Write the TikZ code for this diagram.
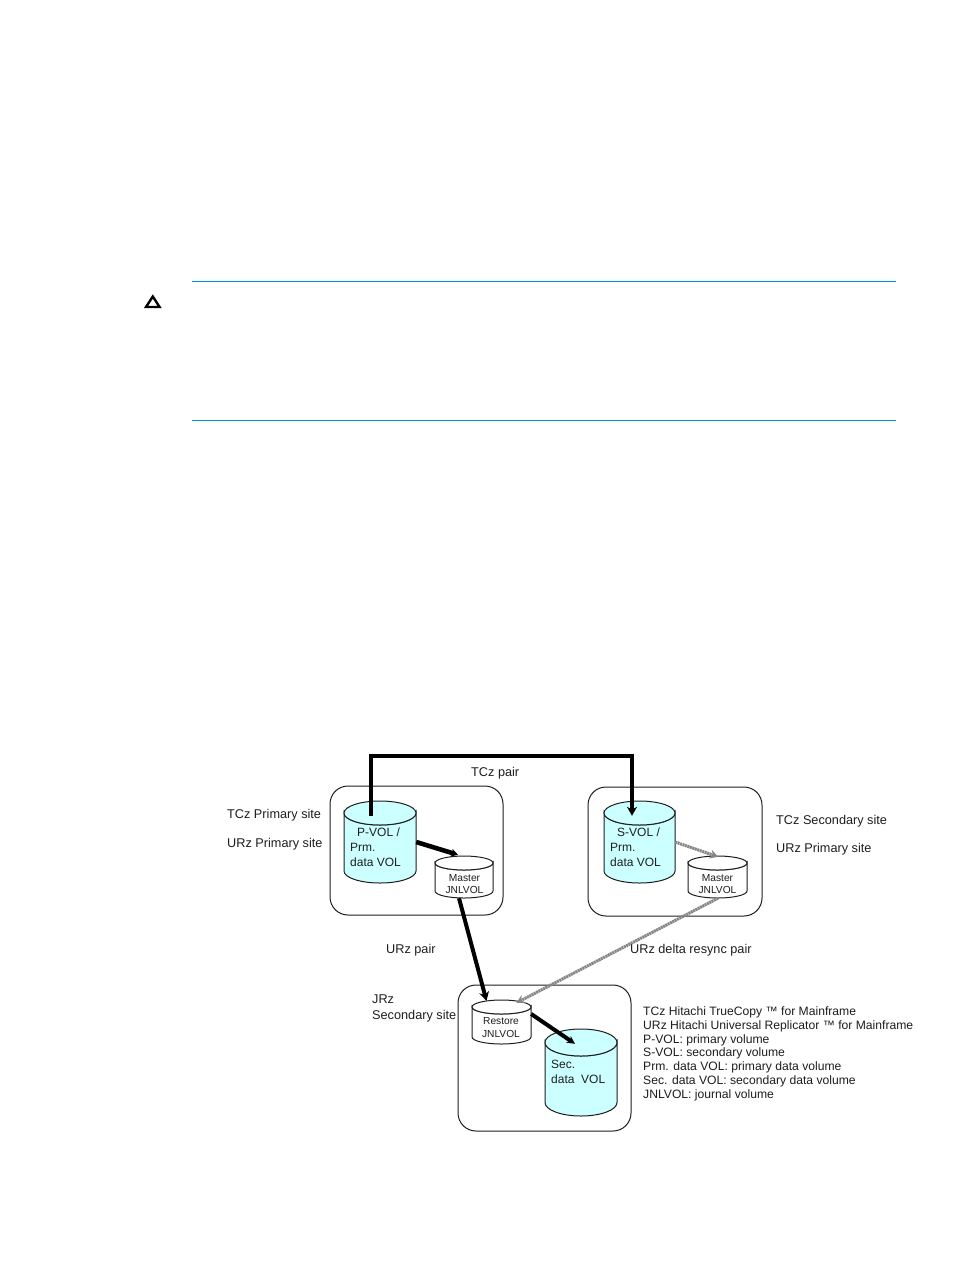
\documentclass[tikz,border=0pt]{standalone}
\usepackage{fontspec}
\setmainfont{Liberation Sans}
\usetikzlibrary{arrows.meta}
\definecolor{volfill}{HTML}{CCFFFF}
\definecolor{rulecol}{HTML}{0096C8}
\definecolor{inkcol}{HTML}{1E1E1E}
\definecolor{linkgray}{HTML}{858585}
\tikzset{
  sitebox/.style={draw=inkcol,line width=1pt,rounded corners=18pt,inner sep=0pt},
  label/.style={anchor=base west,inner sep=0pt,text=inkcol,font=\fontsize{12.7}{14}\selectfont},
  vollabel/.style={anchor=base west,inner sep=0pt,text=inkcol,font=\fontsize{12}{14}\selectfont},
  jnllabel/.style={anchor=base,inner sep=0pt,text=inkcol,font=\fontsize{10.2}{12}\selectfont},
  legend/.style={anchor=base west,inner sep=0pt,text=inkcol,font=\fontsize{12.15}{14}\selectfont},
  boldlink/.style={line width=4pt,draw=black,line join=miter,-{Stealth[length=9pt,width=10pt]}},
  graylink/.style={line width=3pt,draw=linkgray,dash pattern=on 2pt off 0.6pt,-{Stealth[length=8pt,width=9pt]}},
  pagerule/.style={draw=rulecol,line width=1pt},
}
% \volume{name}{fill}{left}{right}{top}{lid depth}{bottom}
\newcommand{\volume}[7]{%
  \pgfmathsetmacro{\vmid}{(#3+#4)/2}%
  \pgfmathsetmacro{\vhw}{(#4-#3)/2}%
  \pgfmathsetmacro{\vrad}{#6/2}%
  \pgfmathsetmacro{\vcy}{#5+\vrad}%
  \pgfmathsetmacro{\vsy}{#7-\vrad}%
  \path[draw=inkcol,line width=1pt,fill=#2]
    (#3,\vcy) arc[start angle=180,end angle=360,x radius=\vhw,y radius=-\vrad]
    -- (#4,\vsy) arc[start angle=0,end angle=-180,x radius=\vhw,y radius=-\vrad] -- cycle;
  \path[draw=inkcol,line width=1pt,fill=#2] (\vmid,\vcy) ellipse[x radius=\vhw,y radius=\vrad];
  \pgfmathsetmacro{\vw}{#4-#3}%
  \pgfmathsetmacro{\vh}{#7-#5}%
  \pgfmathsetmacro{\vcm}{(#5+#7)/2}%
  \node[minimum width=\vw pt,minimum height=\vh pt,inner sep=0pt] (#1) at (\vmid,\vcm) {};
}
\begin{document}
\begin{tikzpicture}[x=1pt,y=-1pt]
\useasboundingbox (0,0) rectangle (954,1270);
\fill[white] (0,0) rectangle (954,1270);

% page furniture
\coordinate (ruleTopL) at (192,281); \coordinate (ruleTopR) at (896,281);
\coordinate (ruleBotL) at (192,420.5); \coordinate (ruleBotR) at (896,420.5);
\draw[pagerule] (ruleTopL) -- (ruleTopR);
\draw[pagerule] (ruleBotL) -- (ruleBotR);
\draw[black,line width=2.4pt,miter limit=10] (152.8,296.5) -- (159.6,307) -- (146,307) -- cycle;

% sites
\node[sitebox,minimum width=173pt,minimum height=129pt] (siteA) at (416.5,850.5) {};
\node[sitebox,minimum width=174pt,minimum height=129pt] (siteB) at (675,851.5) {};
\node[sitebox,minimum width=173pt,minimum height=146pt] (siteC) at (544.5,1058) {};

% volumes
\volume{pvol}{volfill}{344}{416}{801}{24}{883}
\volume{svol}{volfill}{604}{675}{801}{24}{883}
\volume{mjnlA}{white}{435}{493}{856}{14}{898}
\volume{mjnlB}{white}{688}{747}{856}{14}{898}
\volume{rjnl}{white}{472}{531}{1000}{14}{1044}
\volume{secvol}{volfill}{545}{617}{1029}{27}{1116}

% pair connectors
\coordinate (tcCornerL) at (371,756);
\coordinate (tcCornerR) at (632,756);
\draw[boldlink] ([xshift=-9pt,yshift=-15pt]pvol.north) -- (tcCornerL) -- (tcCornerR) -- ([xshift=-7.5pt,yshift=-15pt]svol.north);
\draw[line width=4.6pt,-{Stealth[length=7pt,width=8pt]}] (pvol.east) -- ([xshift=-6pt,yshift=1pt]mjnlA.north);
\draw[boldlink] ([xshift=-5pt]mjnlA.south) -- ([xshift=-15pt,yshift=-1pt]rjnl.north);
\draw[line width=4pt,-{Stealth[length=8pt,width=8pt]}] ([yshift=8pt]rjnl.east) -- ([xshift=-6pt,yshift=-15pt]secvol.north);
\draw[graylink] (svol.east) -- ([xshift=0.5pt,yshift=-1pt]mjnlB.north);
\draw[graylink] ([xshift=0.5pt]mjnlB.south) -- ([xshift=15pt,yshift=-3pt]rjnl.north);

% site and pair captions
\node[label] (capTCzP) at (227,818) {TCz Primary site};
\node[label] (capURzP) at (227,847) {URz Primary site};
\node[label] (capTCzPair) at (471,776) {TCz pair};
\node[label] (capTCzS) at (776,824) {TCz Secondary site};
\node[label] (capURzP2) at (776,852) {URz Primary site};
\node[label] (capURzPair) at (386,953) {URz pair};
\node[label] (capDelta) at (630,953) {URz delta resync pair};
\node[label] (capJRz) at (372,1003) {JRz};
\node[label] (capSec) at (372,1019) {Secondary site};

% volume captions
\node[vollabel] (tPvol) at (357,836) {P-VOL /};
\node[vollabel] (tPrmA) at (350,851) {Prm.};
\node[vollabel] (tDataA) at (350,866) {data VOL};
\node[vollabel] (tSvol) at (617,836) {S-VOL /};
\node[vollabel] (tPrmB) at (610,851) {Prm.};
\node[vollabel] (tDataB) at (610,866) {data VOL};
\node[vollabel] (tSec) at (551,1068) {Sec.};
\node[vollabel] (tDataC) at (551,1083) {data\ \ VOL};
\node[jnllabel] (tMasterA) at (464.5,881) {Master};
\node[jnllabel] (tJnlA) at (464.5,893) {JNLVOL};
\node[jnllabel] (tMasterB) at (717.5,881) {Master};
\node[jnllabel] (tJnlB) at (717.5,893) {JNLVOL};
\node[jnllabel] (tRestore) at (501,1024) {Restore};
\node[jnllabel] (tJnlC) at (501,1037) {JNLVOL};

% abbreviations
\node[legend] (l1) at (643,1015) {TCz Hitachi TrueCopy ™ for Mainframe};
\node[legend] (l2) at (643,1029) {URz Hitachi Universal Replicator ™ for Mainframe};
\node[legend] (l3) at (643,1043) {P-VOL: primary volume};
\node[legend] (l4) at (643,1056) {S-VOL: secondary volume};
\node[legend] (l5) at (643,1070) {Prm. data VOL: primary data volume};
\node[legend] (l6) at (643,1084) {Sec. data VOL: secondary data volume};
\node[legend] (l7) at (643,1098) {JNLVOL: journal volume};
\end{tikzpicture}
\end{document}
